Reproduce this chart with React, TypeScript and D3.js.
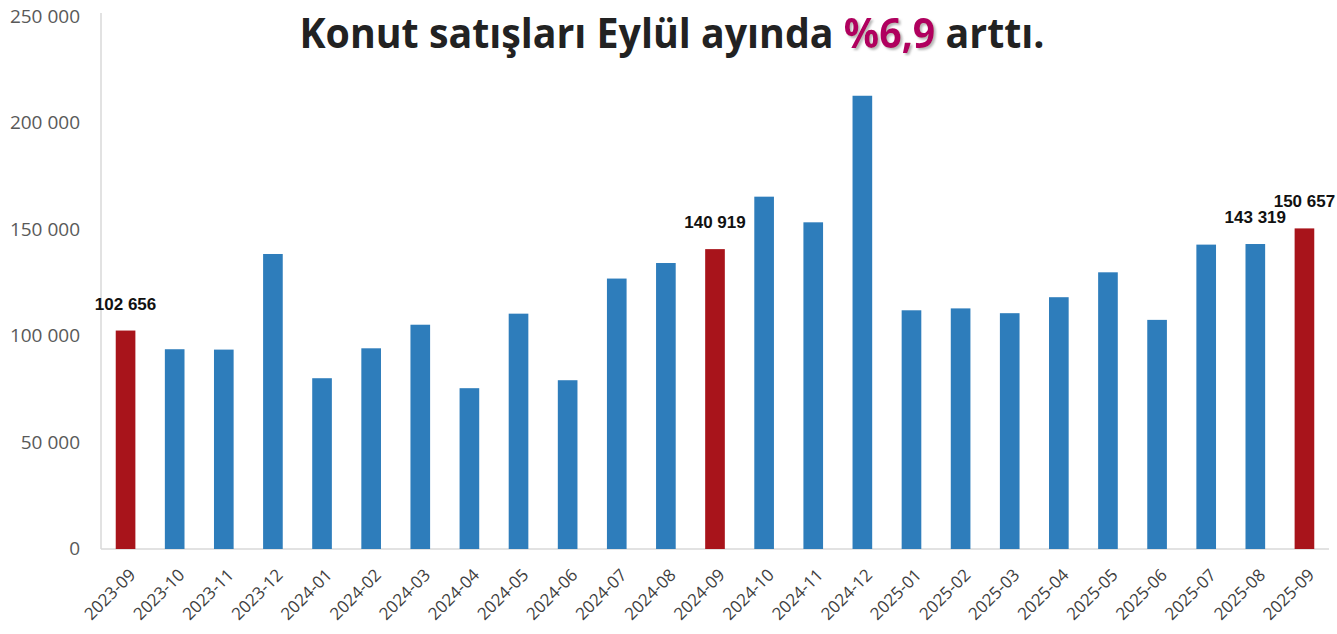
import React from "react";
import * as d3 from "d3";

const categories = [
  "2023-09","2023-10","2023-11","2023-12","2024-01","2024-02","2024-03","2024-04","2024-05","2024-06",
  "2024-07","2024-08","2024-09","2024-10","2024-11","2024-12","2025-01","2025-02","2025-03","2025-04",
  "2025-05","2025-06","2025-07","2025-08","2025-09",
];
const sales = [
  102656, 93875, 93700, 138631, 80252, 94314, 105394, 75569, 110588, 79313,
  127088, 134391, 140919, 165567, 153516, 212992, 112175, 113064, 110814, 118323,
  130025, 107672, 143036, 143319, 150657,
];
const highlighted = ["2023-09", "2024-09", "2025-09"];
const labelled = ["2023-09", "2024-09", "2025-08", "2025-09"];
const yTicks = [0, 50000, 100000, 150000, 200000, 250000];

const W = 1337, H = 634;
const M = { left: 101, right: 8, top: 17, bottom: 85 };

const fmt = (v: number) => d3.format(",")(v).replace(/,/g, " ");

export default function App() {
  const x = d3.scaleBand<string>().domain(categories).range([M.left, W - M.right]).paddingInner(0.6).paddingOuter(0.3);
  const y = d3.scaleLinear().domain([0, 250000]).range([H - M.bottom, M.top]);
  const y0 = y(0);
  return (
    <svg width={W} height={H} style={{ position: "absolute", left: 0, top: 0, background: "#fff" }}>
      <defs>
        <filter id="sh" x="-10%" y="-10%" width="130%" height="140%">
          <feDropShadow dx="2" dy="2" stdDeviation="1" floodColor="#888" floodOpacity="0.6" />
        </filter>
      </defs>
      <line x1={M.left} x2={M.left} y1={M.top - 4} y2={y0} stroke="#d9d9d9" strokeWidth={1.5} />
      <line x1={M.left} x2={W - M.right} y1={y0} y2={y0} stroke="#d9d9d9" strokeWidth={1.5} />
      {yTicks.map((t) => (
        <text key={t} x={80} y={y(t) + 6} textAnchor="end" fontFamily="'Open Sans', sans-serif" fontSize={19} fill="#595959">
          {fmt(t)}
        </text>
      ))}
      {categories.map((c, i) => (
        <rect key={c} x={x(c)} y={y(sales[i])} width={x.bandwidth()} height={y0 - y(sales[i])}
          fill={highlighted.includes(c) ? "#a8141b" : "#2e7dbb"} />
      ))}
      {categories.map((c) => {
        const cx = (x(c) as number) + x.bandwidth() / 2;
        return (
          <text key={c} transform={`translate(${cx + 11},${y0 + 27}) rotate(-45)`} textAnchor="end"
            fontFamily="'Open Sans', sans-serif" fontSize={17} fill="#404040">
            {c}
          </text>
        );
      })}
      {categories.map((c, i) => labelled.includes(c) ? (
        <text key={c} x={(x(c) as number) + x.bandwidth() / 2} y={y(sales[i]) - 21} textAnchor="middle"
          fontFamily="'Liberation Sans', Arial, sans-serif" fontWeight="bold" fontSize={17} fill="#111">
          {fmt(sales[i])}
        </text>
      ) : null)}
      <text x={672} y={48} textAnchor="middle" fontFamily="'Open Sans', sans-serif" fontWeight="bold" fontSize={41} fill="#222" textLength={745} lengthAdjust="spacingAndGlyphs">
        Konut satışları Eylül ayında <tspan fill="#b0005f" filter="url(#sh)">%6,9</tspan> arttı.
      </text>
    </svg>
  );
}
